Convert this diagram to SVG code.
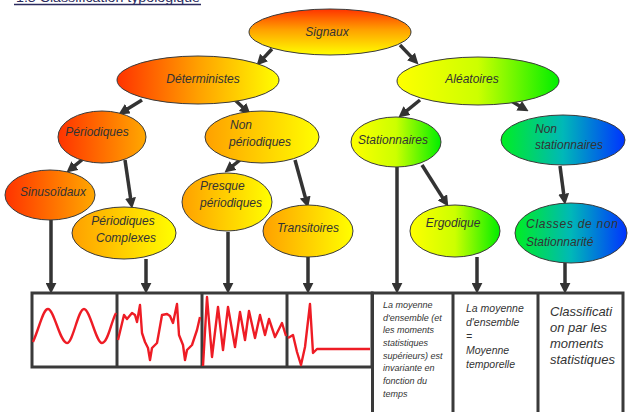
<svg xmlns="http://www.w3.org/2000/svg" width="628" height="412" viewBox="0 0 628 412">
<style>
.node ellipse{stroke:#3a3a3a;stroke-width:1}
.t{font-family:"Liberation Sans",Arial,sans-serif;font-style:italic;font-size:12px;fill:#333}
.c{text-anchor:middle}
.conn line{stroke:#333;stroke-width:3.5;marker-end:url(#ah)}
.box{fill:none;stroke:#3a3a3a;stroke-width:3}
.wave{fill:none;stroke:#ee1c25;stroke-width:2.4;stroke-linejoin:round}
.col{font-family:"Liberation Sans",Arial,sans-serif;font-style:italic;fill:#333}
</style>
<defs>
<marker id="ah" viewBox="0 0 10 10" refX="3" refY="5" markerWidth="11" markerHeight="11" markerUnits="userSpaceOnUse" orient="auto"><path d="M0,0 L10,5 L0,10 z" fill="#333"/></marker>
<linearGradient id="gV" x1="0" y1="0" x2="0" y2="1"><stop offset="0" stop-color="#ff3300"/><stop offset="0.45" stop-color="#ffa000"/><stop offset="1" stop-color="#ffff00"/></linearGradient>
<linearGradient id="gRY"><stop offset="0" stop-color="#ff3300"/><stop offset="0.5" stop-color="#ffa000"/><stop offset="1" stop-color="#ffff00"/></linearGradient>
<linearGradient id="gRO"><stop offset="0" stop-color="#ff3300"/><stop offset="1" stop-color="#ffa800"/></linearGradient>
<linearGradient id="gOY"><stop offset="0" stop-color="#ffa000"/><stop offset="1" stop-color="#ffff00"/></linearGradient>
<linearGradient id="gYG"><stop offset="0" stop-color="#ffff00"/><stop offset="0.5" stop-color="#ccff00"/><stop offset="1" stop-color="#00ee00"/></linearGradient>
<linearGradient id="gGB"><stop offset="0" stop-color="#00ee22"/><stop offset="0.5" stop-color="#00b8b8"/><stop offset="1" stop-color="#0033ff"/></linearGradient>
</defs>
<rect width="628" height="412" fill="#fff"/>
<g id="title">
<text x="16" y="2" font-family="Liberation Sans,Arial,sans-serif" font-size="13" fill="#2b2b5e" textLength="184" lengthAdjust="spacingAndGlyphs">1.3 Classification typologique</text>
<line x1="14" y1="4.5" x2="201" y2="4.5" stroke="#2b2b5e" stroke-width="1.6"/>
</g>
<g id="connectors" class="conn">
<line x1="272" y1="49" x2="261.8" y2="59.9"/>
<line x1="400" y1="45" x2="413.2" y2="58.9"/>
<line x1="142" y1="100" x2="125" y2="110.4"/>
<line x1="235" y1="100" x2="244.9" y2="109.2"/>
<line x1="420" y1="100" x2="404.4" y2="112.6"/>
<line x1="508" y1="99" x2="522" y2="107.4"/>
<line x1="83" y1="159" x2="72.4" y2="167.6"/>
<line x1="125" y1="160" x2="131" y2="201.1"/>
<line x1="240" y1="160" x2="230.5" y2="167.6"/>
<line x1="295" y1="160" x2="306.1" y2="200.3"/>
<line x1="422" y1="165" x2="444.2" y2="200.1"/>
<line x1="560" y1="166" x2="564.1" y2="197.1"/>
<line x1="51" y1="220" x2="51" y2="286"/>
<line x1="146" y1="259" x2="146" y2="286"/>
<line x1="228" y1="232" x2="228" y2="286"/>
<line x1="308" y1="257" x2="308" y2="286"/>
<line x1="397" y1="167" x2="397" y2="286"/>
<line x1="477" y1="257" x2="477" y2="286"/>
<line x1="565" y1="263" x2="565" y2="286"/>
</g>
<g id="signaux" class="node"><ellipse cx="330" cy="32" rx="81" ry="23" fill="url(#gV)"/><text class="t c" x="327" y="36">Signaux</text></g>
<g id="deterministes" class="node"><ellipse cx="198" cy="80" rx="81" ry="24" fill="url(#gRY)"/><text class="t c" x="203" y="83">Déterministes</text></g>
<g id="aleatoires" class="node"><ellipse cx="478" cy="81" rx="81" ry="24" fill="url(#gYG)"/><text class="t c" x="472" y="83">Aléatoires</text></g>
<g id="periodiques" class="node"><ellipse cx="102" cy="137" rx="44" ry="26" fill="url(#gRO)"/><text class="t c" x="97" y="136">Périodiques</text></g>
<g id="non-periodiques" class="node"><ellipse cx="262" cy="137" rx="57" ry="26" fill="url(#gOY)"/><text class="t" x="230" y="129">Non</text><text class="t" x="229" y="146">périodiques</text></g>
<g id="sinusoidaux" class="node"><ellipse cx="50" cy="195" rx="45" ry="25" fill="url(#gRO)"/><text class="t c" x="53" y="196">Sinusoïdaux</text></g>
<g id="periodiques-complexes" class="node"><ellipse cx="124" cy="233" rx="52" ry="26" fill="url(#gOY)"/><text class="t c" x="123" y="225">Périodiques</text><text class="t c" x="126" y="242">Complexes</text></g>
<g id="presque-periodiques" class="node"><ellipse cx="227" cy="202" rx="45" ry="29" fill="url(#gOY)"/><text class="t" x="200" y="190">Presque</text><text class="t" x="200" y="207">périodiques</text></g>
<g id="transitoires" class="node"><ellipse cx="308" cy="231" rx="45" ry="26" fill="url(#gOY)"/><text class="t c" x="308" y="232">Transitoires</text></g>
<g id="stationnaires" class="node"><ellipse cx="396" cy="142" rx="45" ry="25" fill="url(#gYG)"/><text class="t c" x="393" y="144">Stationnaires</text></g>
<g id="non-stationnaires" class="node"><ellipse cx="563" cy="140" rx="62" ry="25" fill="url(#gGB)"/><text class="t" x="535" y="133">Non</text><text class="t" x="535" y="149">stationnaires</text></g>
<g id="ergodique" class="node"><ellipse cx="455" cy="231" rx="45" ry="26" fill="url(#gYG)"/><text class="t c" x="453" y="227">Ergodique</text></g>
<g id="classes" class="node"><ellipse cx="571" cy="233" rx="56" ry="30" fill="url(#gGB)"/><text class="t" x="526" y="228" textLength="92" lengthAdjust="spacing">Classes de non</text><text class="t" x="526" y="246">Stationnarité</text></g>
<g id="waveforms">
<rect class="box" x="32" y="293" width="340" height="74"/>
<line class="box" x1="117" y1="293" x2="117" y2="367"/>
<line class="box" x1="202" y1="293" x2="202" y2="367"/>
<line class="box" x1="287" y1="293" x2="287" y2="367"/>
<path class="wave" d="M33,342 C40,326 43,309 48,309 C54,309 60,343 67,343 C73,343 78,309 84,309 C90,309 96,343 102,343 C108,343 111,322 116,313"/>
<path class="wave" d="M118,340 L124,315 L127,319 L132,313 L135,315 L137,322 L140,305 L142,333 L145,342 L148,348 L150,360 L152,348 L157,343 L159,332 L162,315 L167,314 L170,316 L173,323 L177,304 L179,335 L183,345 L185,360 L187,350 L192,345 L197,330 L200,317"/>
<path class="wave" d="M203,366 L207,297 L212,357 L218,307 L223,350 L228,307 L235,347 L240,312 L245,340 L249,311 L255,338 L260,315 L265,335 L269,319 L275,337 L282,323 L286,336"/>
<path class="wave" d="M288,338 L293,335 L297,352 L301,365 L305,347 L310,304 L313,353 L317,349 L370,349"/>
</g>
<g id="text-columns">
<path class="box" d="M372.5,412 V293 H623 V412 M453,293 V412 M538,293 V412"/>
<text class="col" font-size="9">
<tspan x="383" y="308">La moyenne</tspan>
<tspan x="383" y="321">d'ensemble (et</tspan>
<tspan x="383" y="333">les moments</tspan>
<tspan x="383" y="346">statistiques</tspan>
<tspan x="383" y="359">supérieurs) est</tspan>
<tspan x="383" y="371">invariante en</tspan>
<tspan x="383" y="384">fonction du</tspan>
<tspan x="383" y="397">temps</tspan>
</text>
<text class="col" font-size="10.5">
<tspan x="466" y="312">La moyenne</tspan>
<tspan x="466" y="326">d'ensemble</tspan>
<tspan x="466" y="340">=</tspan>
<tspan x="466" y="354">Moyenne</tspan>
<tspan x="466" y="368">temporelle</tspan>
</text>
<text class="col" font-size="13">
<tspan x="550" y="316">Classificati</tspan>
<tspan x="550" y="332">on par les</tspan>
<tspan x="550" y="348">moments</tspan>
<tspan x="550" y="364">statistiques</tspan>
</text>
</g>
</svg>
